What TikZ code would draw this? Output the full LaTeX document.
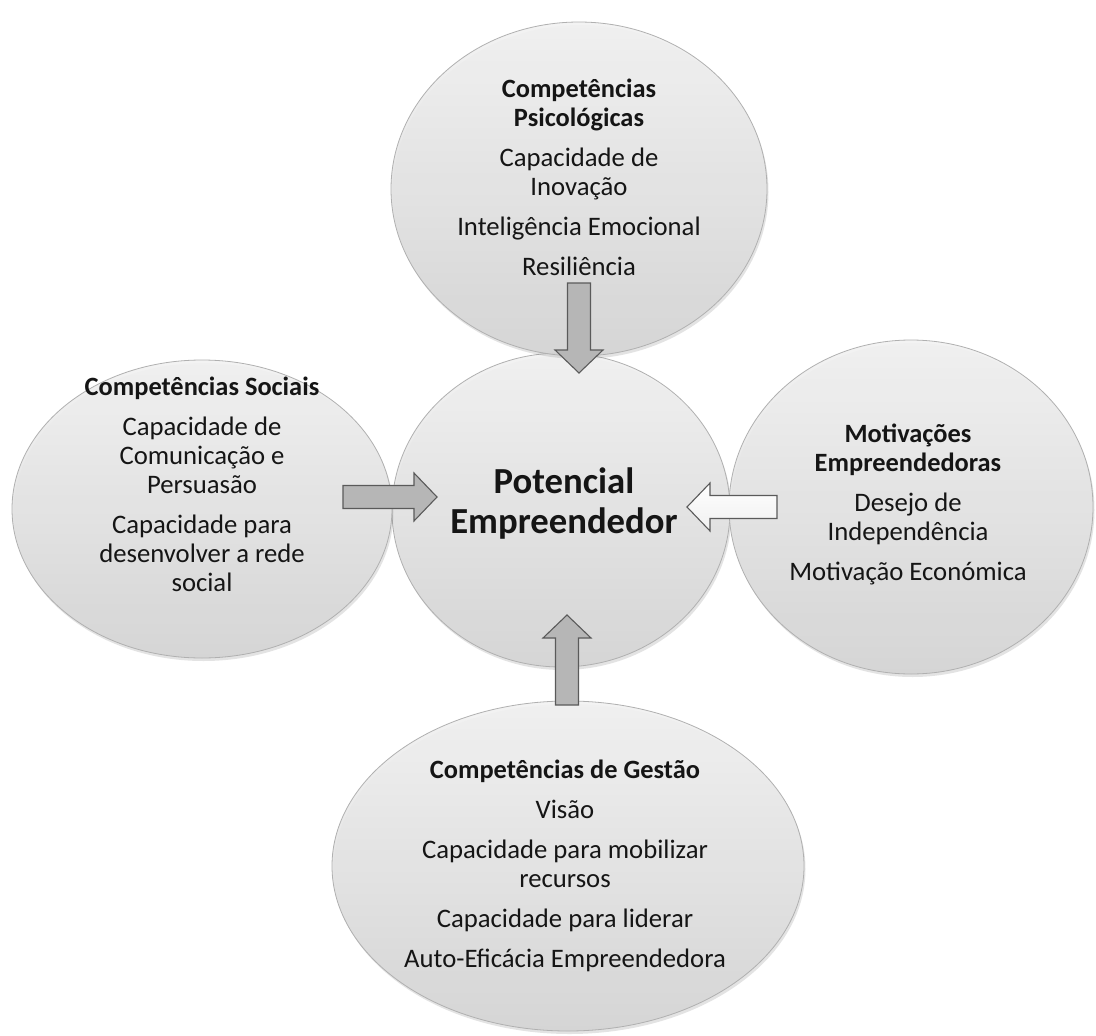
\documentclass[tikz,border=0pt]{standalone}
\usepackage{fontspec}
\setmainfont{Carlito}
\usetikzlibrary{shapes.geometric,calc,shadows}
\definecolor{bubtop}{HTML}{F2F2F2}
\definecolor{bubbot}{HTML}{D4D4D4}
\definecolor{bubedge}{HTML}{B0B0B0}
\definecolor{arrfill}{HTML}{B6B6B6}
\definecolor{arredge}{HTML}{5A5A5A}
\definecolor{txtcol}{HTML}{151515}
\newcommand\fatarrow[3]{%
  \coordinate (fa-h) at ($#3!23pt!#2$);
  \draw[#1] ($#2!11.5pt!90:#3$) -- ($(fa-h)!11.5pt!90:#3$) -- ($(fa-h)!24pt!90:#3$) -- #3
    -- ($(fa-h)!24pt!-90:#3$) -- ($(fa-h)!11.5pt!-90:#3$) -- ($#2!11.5pt!-90:#3$) -- cycle;}
\newcommand\hd[1]{{\bfseries\fontsize{26.4}{29}\selectfont #1}}
\tikzset{
  bub/.style={ellipse, inner sep=0pt, draw=bubedge, line width=0.8pt,
    top color=bubtop, bottom color=bubbot, fill opacity=0.9,
    drop shadow={opacity=0.22, shadow xshift=1.5pt, shadow yshift=-3pt}},
  txtblock/.style={anchor=north, inner sep=0pt, align=center, text=txtcol,
    font=\fontsize{26.7}{29}\selectfont},
  arrg/.style={fill=arrfill, draw=arredge, line width=1.1pt, line join=miter},
  arrw/.style={top color=white, bottom color=gray!12, draw=arredge, line width=1.1pt, line join=miter},
}
\begin{document}
\begin{tikzpicture}[x=1pt,y=-1pt]
\useasboundingbox[fill=white] (0,0) rectangle (1096,1036);
% bubbles
\node[bub, minimum width=338pt, minimum height=314pt] (cen) at (561,510) {};
\node[bub, minimum width=376pt, minimum height=334pt] (top) at (579,189) {};
\node[bub, minimum width=380pt, minimum height=298pt] (lef) at (202,509) {};
\node[bub, minimum width=364pt, minimum height=334pt] (rig) at (911,507) {};
\node[bub, minimum width=472pt, minimum height=330pt] (bot) at (568,866) {};
% texts
\node[txtblock] (toptxt) at (579,72) {\rule{0pt}{25pt}\hd{Competências}\\ \hd{Psicológicas}\\[11pt]
  Capacidade de\\ Inovação\\[11pt] Inteligência Emocional\\[11pt] Resiliência};
\node[txtblock] (leftxt) at (202,370) {\rule{0pt}{25pt}\hd{Competências Sociais}\\[11pt]
  Capacidade de\\ Comunicação e\\ Persuasão\\[11pt] Capacidade para\\ desenvolver a rede\\ social};
\node[txtblock, font=\bfseries\fontsize{36.7}{40}\selectfont] (centxt) at (564,458)
  {\rule{0pt}{35pt}Potencial\\ Empreendedor};
\node[txtblock] (rigtxt) at (908,417) {\rule{0pt}{25pt}\hd{Motivações}\\ \hd{Empreendedoras}\\[11pt]
  Desejo de\\ Independência\\[11pt] Motivação Económica};
\node[txtblock] (bottxt) at (565,753) {\rule{0pt}{25pt}\hd{Competências de Gestão}\\[11pt]
  Visão\\[11pt] Capacidade para mobilizar\\ recursos\\[11pt] Capacidade para liderar\\[11pt]
  Auto-Eficácia Empreendedora};
% arrow end points
\coordinate (ta) at ($(top)+(0,94)$);
\coordinate (tb) at ($(top)+(0,184)$);
\coordinate (la) at ($(lef)+(141,-12)$);
\coordinate (lb) at ($(lef)+(235,-12)$);
\coordinate (ra) at ($(rig)+(-134,0)$);
\coordinate (rb) at ($(rig)+(-224,0)$);
\coordinate (ba) at ($(bot)+(-1,-161)$);
\coordinate (bb) at ($(bot)+(-1,-251)$);
\fatarrow{arrg}{(ta)}{(tb)}
\fatarrow{arrg}{(la)}{(lb)}
\fatarrow{arrw}{(ra)}{(rb)}
\fatarrow{arrg}{(ba)}{(bb)}
\end{tikzpicture}
\end{document}
